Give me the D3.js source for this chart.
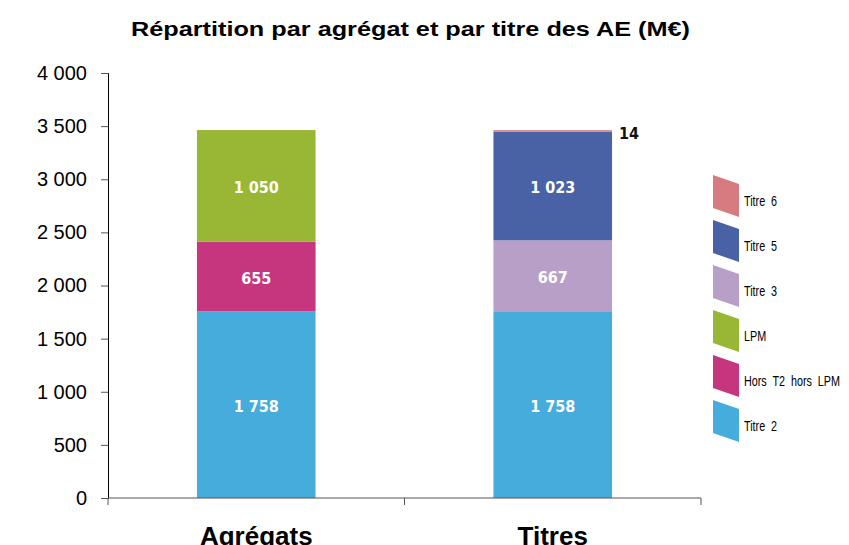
<!DOCTYPE html>
<html>
<head>
<meta charset="utf-8">
<script src="https://cdn.jsdelivr.net/npm/d3@7"></script>
<style>
  body { margin: 0; background: #fff; }
  svg { display: block; }
</style>
</head>
<body>
<div id="chart"></div>
<script>
const categories = ['Agrégats', 'Titres']
const seriesNames = ['Titre 2', 'Hors T2 hors LPM', 'LPM', 'Titre 3', 'Titre 5', 'Titre 6']
const seriesColors = ['#46acdc', '#c5367e', '#98b734', '#b89fc8', '#4862a5', '#d67b80']
// values per category, in the order of seriesNames
const agregatsValues = [1758, 655, 1050, 0, 0, 0]
const titresValues = [1758, 0, 0, 667, 1023, 14]
const yTicks = [0, 500, 1000, 1500, 2000, 2500, 3000, 3500, 4000]
const legendOrder = ['Titre 6', 'Titre 5', 'Titre 3', 'LPM', 'Hors T2 hors LPM', 'Titre 2']

const width = 849
const height = 545
const margin = { top: 73, left: 108, right: 148, bottom: 47 }
const innerW = width - margin.left - margin.right
const innerH = height - margin.top - margin.bottom

const fmt = (v) => d3.format(',')(v).replace(/,/g, ' ')

const table = categories.map((c, i) => {
  const row = { category: c }
  const vals = i === 0 ? agregatsValues : titresValues
  seriesNames.forEach((s, j) => (row[s] = vals[j]))
  return row
})

const stacked = d3.stack().keys(seriesNames)(table)

const svg = d3.select('#chart').append('svg')
  .attr('width', width)
  .attr('height', height)

const bounds = svg.append('g')
  .attr('transform', `translate(${margin.left}, ${margin.top})`)

const xScale = d3.scaleBand()
  .domain(categories)
  .range([0, innerW])
  .paddingInner(0.6)
  .paddingOuter(0.3)

const yScale = d3.scaleLinear()
  .domain([0, 4000])
  .range([innerH, 0])

// title (stretched wide like the original)
svg.append('text')
  .attr('x', 131)
  .attr('y', 36)
  .attr('textLength', 559)
  .attr('lengthAdjust', 'spacingAndGlyphs')
  .style('font-family', 'Liberation Sans, Arial, sans-serif')
  .style('font-weight', 'bold')
  .style('font-size', '21px')
  .text('Répartition par agrégat et par titre des AE (M€)')

// bars
const layers = bounds.selectAll('.layer')
  .data(stacked)
  .join('g')
  .attr('class', 'layer')
  .attr('fill', (d, i) => seriesColors[i])

layers.selectAll('rect')
  .data((d) => d.filter((p) => p[1] - p[0] > 0).map((p) => ({ p, key: d.key })))
  .join('rect')
  .attr('x', (d) => xScale(d.p.data.category))
  .attr('width', xScale.bandwidth())
  .attr('y', (d) => yScale(d.p[1]))
  .attr('height', (d) => yScale(d.p[0]) - yScale(d.p[1]))

// value labels
const labelFont = 'DejaVu Sans Condensed, DejaVu Sans, sans-serif'
layers.each(function (layer) {
  layer.forEach((p) => {
    const v = p[1] - p[0]
    if (v <= 0) return
    const small = v < 100
    d3.select(this).append('text')
      .attr('x', small ? xScale(p.data.category) + xScale.bandwidth() + 7 : xScale(p.data.category) + xScale.bandwidth() / 2)
      .attr('y', small ? yScale(p[1]) + 2 : yScale((p[0] + p[1]) / 2))
      .attr('dy', '0.45em')
      .attr('text-anchor', small ? 'start' : 'middle')
      .attr('fill', small ? '#111' : '#fff')
      .style('font-family', labelFont)
      .style('font-stretch', 'condensed')
      .style('font-weight', 'bold')
      .style('font-size', '16px')
      .text(fmt(v))
  })
})

// y axis
const yAxis = bounds.append('g')
  .attr('class', 'y-axis')
  .call(d3.axisLeft(yScale).tickValues(yTicks).tickFormat(fmt).tickSize(7).tickPadding(14))
yAxis.select('.domain').attr('stroke', '#000')
yAxis.selectAll('.tick line').attr('stroke', '#555')
yAxis.selectAll('text')
  .style('font-family', 'Liberation Sans, Arial, sans-serif')
  .style('font-size', '20px')
  .attr('fill', '#000')

// x axis
const xAxis = bounds.append('g')
  .attr('class', 'x-axis')
  .attr('transform', `translate(0, ${innerH})`)
xAxis.append('line')
  .attr('x1', 0).attr('x2', innerW)
  .attr('stroke', '#555')
xAxis.selectAll('.sep')
  .data([0, innerW / 2, innerW])
  .join('line')
  .attr('class', 'sep')
  .attr('x1', (d) => d).attr('x2', (d) => d)
  .attr('y1', 0).attr('y2', 7)
  .attr('stroke', '#555')
xAxis.selectAll('.cat')
  .data(categories)
  .join('text')
  .attr('class', 'cat')
  .attr('x', (d) => xScale(d) + xScale.bandwidth() / 2)
  .attr('y', 47)
  .attr('text-anchor', 'middle')
  .style('font-family', 'Liberation Sans, Arial, sans-serif')
  .style('font-weight', 'bold')
  .style('font-size', '26px')
  .text((d) => d)

// legend
const legend = svg.append('g').attr('transform', 'translate(713, 175)')
const item = legend.selectAll('.item')
  .data(legendOrder)
  .join('g')
  .attr('class', 'item')
  .attr('transform', (d, i) => `translate(0, ${i * 45})`)
item.append('path')
  .attr('d', 'M0,0 L26,9 L26,42 L0,33 Z')
  .attr('fill', (d) => seriesColors[seriesNames.indexOf(d)])
item.append('text')
  .attr('transform', 'translate(31, 31) scale(0.72, 1)')
  .style('font-family', 'Liberation Sans, Arial, sans-serif')
  .style('font-size', '15px')
  .style('word-spacing', '4px')
  .attr('fill', '#000')
  .text((d) => d)
</script>
</body>
</html>
